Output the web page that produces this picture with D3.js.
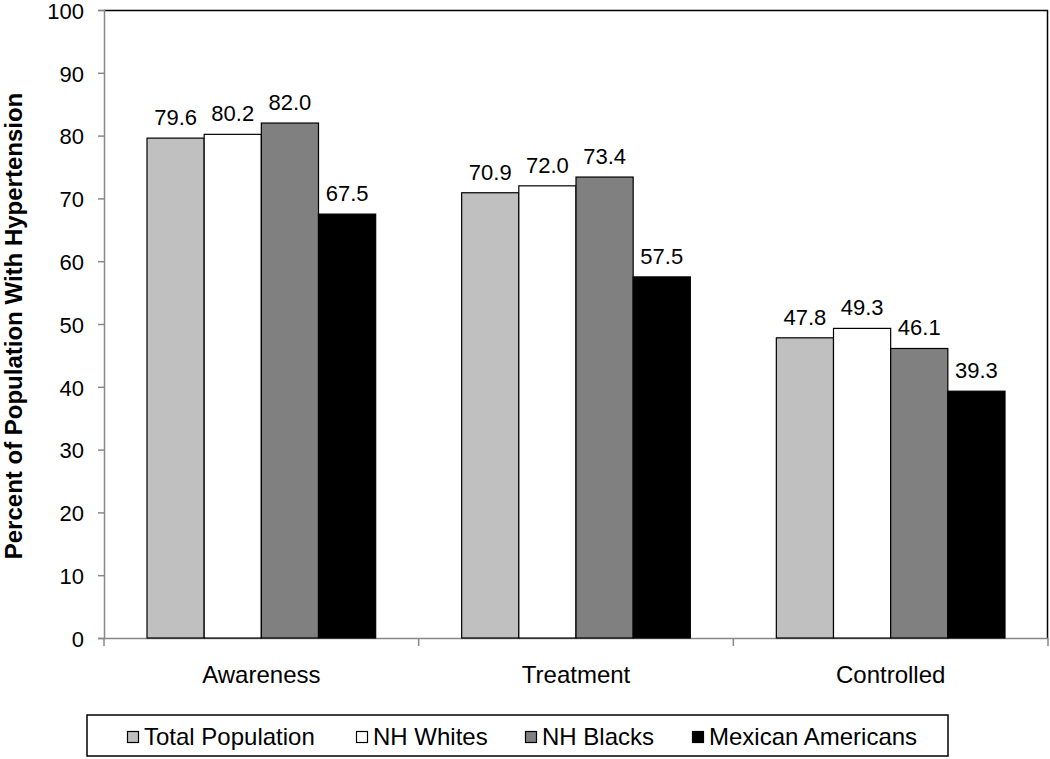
<!DOCTYPE html>
<html><head><meta charset="utf-8">
<script src="https://cdn.jsdelivr.net/npm/d3@7"></script>
<style>body{margin:0;background:#fff}svg{display:block}text{font-family:"Liberation Sans",Arial,sans-serif}</style>
</head><body><svg id="c" width="1050" height="759"></svg>
<script>
const categories = ["Awareness","Treatment","Controlled"];
const seriesNames = ["Total Population","NH Whites","NH Blacks","Mexican Americans"];
const seriesColors = ["#c0c0c0","#ffffff","#808080","#000000"];
const totalPopulation = [79.6,70.9,47.8];
const nhWhites = [80.2,72.0,49.3];
const nhBlacks = [82.0,73.4,46.1];
const mexicanAmericans = [67.5,57.5,39.3];
const yTicks = [0,10,20,30,40,50,60,70,80,90,100];
const seriesValues = [totalPopulation,nhWhites,nhBlacks,mexicanAmericans];

const svg = d3.select("#c");
const L=104,R=1048,T=10,B=638;
const FF="Liberation Sans, Arial, sans-serif";
const y = d3.scaleLinear().domain([0,100]).range([B,T]);
const x0 = d3.scaleBand().domain(categories).range([L,R]).paddingInner(0).paddingOuter(0);
const x1 = d3.scaleBand().domain(seriesNames).range([43, x0.bandwidth()-43]).padding(0);

// frame top/right
svg.append("line").attr("x1",L).attr("x2",R).attr("y1",T+0.5).attr("y2",T+0.5).attr("stroke","#000").attr("stroke-width",1.5);
svg.append("line").attr("x1",R-0.5).attr("x2",R-0.5).attr("y1",T).attr("y2",B).attr("stroke","#000").attr("stroke-width",1.5);

// y axis
const ya = svg.append("g").attr("transform",`translate(${L},0)`).call(d3.axisLeft(y).tickValues(yTicks).tickSize(6).tickPadding(14));
ya.select(".domain").attr("stroke","#888").attr("stroke-width",1.5);
ya.selectAll(".tick line").attr("stroke","#888").attr("stroke-width",1.5);
ya.selectAll("text").attr("font-size",22).attr("fill","#000").attr("dy","0.38em").style("font-family",FF);

// x axis
const xa = svg.append("g").attr("transform",`translate(0,${B})`).call(d3.axisBottom(x0).tickSize(0).tickPadding(0));
xa.select(".domain").attr("stroke","#888").attr("stroke-width",1.5);
xa.selectAll("text").attr("font-size",24).attr("fill","#000").attr("dy",null).attr("y",45).style("font-family",FF);
const bounds = categories.map(c=>x0(c)).concat([x0(categories[2])+x0.bandwidth()]);
svg.selectAll(".xb").data(bounds).join("line").attr("x1",d=>d).attr("x2",d=>d).attr("y1",B).attr("y2",B+8).attr("stroke","#888").attr("stroke-width",1.5);

// bars
const data=[];
categories.forEach((c,i)=>seriesNames.forEach((s,j)=>data.push({c,s,j,v:seriesValues[j][i]})));
const g = svg.append("g");
g.selectAll("rect").data(data).join("rect")
 .attr("x",d=>x0(d.c)+x1(d.s)).attr("width",x1.bandwidth())
 .attr("y",d=>y(d.v)).attr("height",d=>B-y(d.v))
 .attr("fill",d=>seriesColors[d.j]).attr("stroke","#000").attr("stroke-width",1.2);
g.selectAll("text").data(data).join("text")
 .attr("x",d=>x0(d.c)+x1(d.s)+x1.bandwidth()/2).attr("y",d=>y(d.v)-13)
 .attr("text-anchor","middle").attr("font-size",22).text(d=>d.v.toFixed(1));

// y title
svg.append("text").attr("transform",`translate(22,${(T+B)/2+2}) rotate(-90)`).attr("text-anchor","middle")
 .attr("font-size",24).attr("font-weight","bold").text("Percent of Population With Hypertension");

// legend
const lg = svg.append("g");
lg.append("rect").attr("x",87).attr("y",715).attr("width",861).attr("height",41).attr("fill","#fff").attr("stroke","#000").attr("stroke-width",1.5);
const lx=[127,356,525,692];
seriesNames.forEach((s,j)=>{
  lg.append("rect").attr("x",lx[j]+0.5).attr("y",731.5).attr("width",11).attr("height",11).attr("fill",seriesColors[j]).attr("stroke","#000").attr("stroke-width",1.2);
  lg.append("text").attr("x",lx[j]+17).attr("y",745).attr("font-size",24).text(s);
});
</script></body></html>
